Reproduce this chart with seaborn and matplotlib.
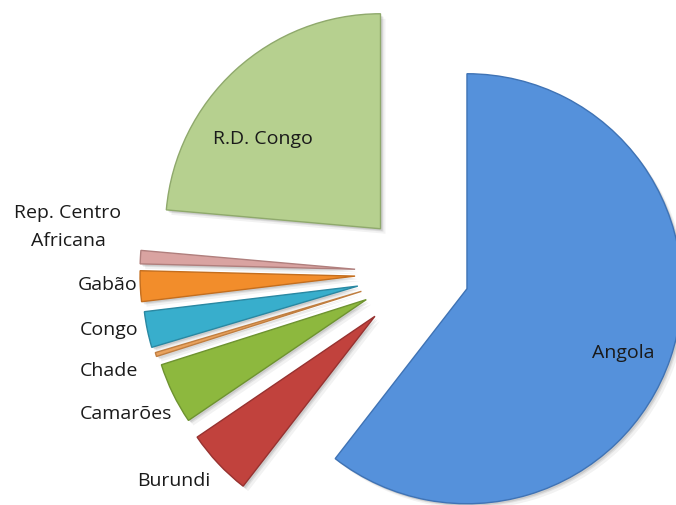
import matplotlib
matplotlib.use("Agg")
import matplotlib.pyplot as plt
import seaborn as sns

# Share of each country (percent), clockwise from 12 o'clock
countries = ["Angola", "Burundi", "Camarões", "Chade", "Congo", "Gabão",
             "Rep. Centro\nAfricana", "R.D. Congo"]
shares = [60.5, 5.0, 4.6, 0.3, 2.7, 2.3, 1.0, 23.6]
# how far each slice is pulled out, as a fraction of the radius
explode_frac = [0.226, 0.294, 0.283, 0.29, 0.30, 0.307, 0.307, 0.279]

colors = ["#5591DB", "#C1423D", "#8DB83E", "#E9A25E", "#38AECC",
          "#F28D2B", "#D9A3A1", "#B6D08F"]
edges = ["#3F73B5", "#973230", "#6E9330", "#C07E40", "#2A88A2",
         "#C46E1E", "#B07F7D", "#8FA96C"]

sns.set_theme(style="white")
plt.rcParams["font.family"] = ["Open Sans", "DejaVu Sans"]

W, H = 676, 506
fig = plt.figure(figsize=(W / 100, H / 100), dpi=100)
ax = fig.add_axes([0, 0, 1, 1])

cx, cy, r = 421, 232, 215
explode = [f * r for f in explode_frac]  # pie() takes the offset in data units

# soft drop shadow under the wedges
for dx, dy, a in [(5, -5, 0.05), (3, -3, 0.07), (2, -2, 0.09)]:
    ax.pie(shares, explode=explode, startangle=90, counterclock=False,
           center=(cx + dx, cy + dy), radius=r,
           colors=["#000000"] * len(shares),
           wedgeprops=dict(alpha=a, linewidth=0))

wedges, _ = ax.pie(shares, explode=explode, startangle=90,
                   counterclock=False, center=(cx, cy), radius=r,
                   colors=colors,
                   wedgeprops=dict(linewidth=1.0))
for w, ec in zip(wedges, edges):
    w.set_edgecolor(ec)

ax.set_xlim(0, W)
ax.set_ylim(0, H)
ax.set_aspect("equal")
ax.axis("off")

label_style = dict(fontsize=14, color="#1a1a1a")
# labels placed in pixel space (y measured from the top)
label_pos = {
    "Angola": (623, 353, "center"),
    "R.D. Congo": (263, 139, "center"),
    "Rep. Centro\nAfricana": (68, 227, "center"),
    "Gabão": (137, 285, "right"),
    "Congo": (138, 330, "right"),
    "Chade": (138, 371, "right"),
    "Camarões": (172, 414, "right"),
    "Burundi": (210, 481, "right"),
}
for name in countries:
    x, y, ha = label_pos[name]
    ax.text(x, H - y, name, ha=ha, va="center", linespacing=1.7,
            multialignment="center", **label_style)

fig.savefig("out.png", dpi=100, facecolor="white")
